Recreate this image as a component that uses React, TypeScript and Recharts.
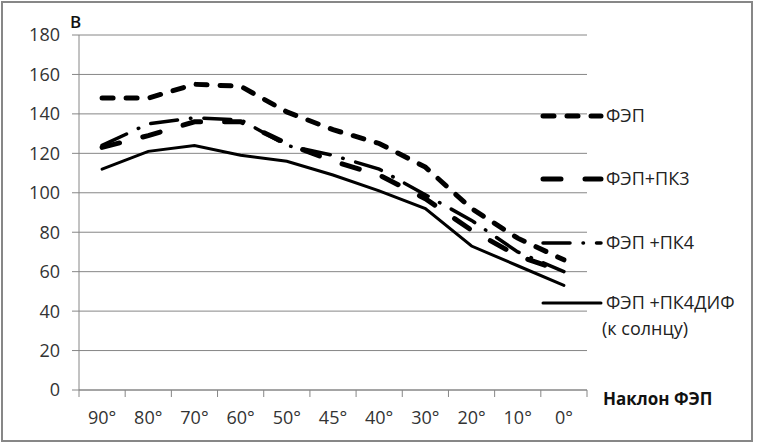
import { CartesianGrid, Line, LineChart, XAxis, YAxis } from "recharts";

const categories = ["90°", "80°", "70°", "60°", "50°", "45°", "40°", "30°", "20°", "10°", "0°"];
const fep = [148, 148, 155, 154, 141, 132, 125, 113, 92, 77, 66];
const fepPk3 = [123, 129, 136, 136, 125, 116, 109, 97, 81, 68, 60];
const fepPk4 = [124, 135, 138, 137, 124, 119, 112, 99, 86, 70, 60];
const fepPk4Dif = [112, 121, 124, 119, 116, 109, 101, 92, 73, 63, 53];
const yTicks = [0, 20, 40, 60, 80, 100, 120, 140, 160, 180];

const series = [
  { key: "fep", name: "ФЭП", values: fep, width: 5, dash: "11 13" },
  { key: "pk3", name: "ФЭП+ПК3", values: fepPk3, width: 5, dash: "18 24" },
  { key: "pk4", name: "ФЭП +ПК4", values: fepPk4, width: 3.5, dash: "27 13 0.5 13" },
  { key: "dif", name: "ФЭП +ПК4ДИФ", values: fepPk4Dif, width: 3, dash: undefined },
];

const data = categories.map((angle, i) => {
  const row: any = { angle };
  series.forEach((s) => (row[s.key] = s.values[i]));
  return row;
});

const FONT = "'Open Sans', sans-serif";
const GRID = "#868686";
const W = 757;
const H = 445;
const M = { top: 35, right: 170, bottom: 0, left: 0 };
const Y_W = 79;
const X_H = 55;
const BAND = (W - M.right - Y_W) / categories.length;

function XTick(props: any) {
  const { x, y, payload, index } = props;
  const axisY = y - 21;
  const half = BAND / 2;
  return (
    <g>
      <line x1={x - half} x2={x - half} y1={axisY} y2={axisY + 7} stroke={GRID} />
      {index === categories.length - 1 && (
        <line x1={x + half} x2={x + half} y1={axisY} y2={axisY + 7} stroke={GRID} />
      )}
      <text x={x} y={y} dy="0.72em" textAnchor="middle" fontSize={18} fill="#333" fontFamily={FONT}>
        {payload.value}
      </text>
    </g>
  );
}

const legendY = [16, 79, 143, 203];

function LegendBox() {
  return (
    <svg width={217} height={250} style={{ position: "absolute", left: 538, top: 100 }}>
      {series.map((s, i) => (
        <g key={s.key}>
          <line
            x1={5}
            x2={63}
            y1={legendY[i]}
            y2={legendY[i]}
            stroke="#000"
            strokeWidth={s.width}
            strokeDasharray={s.dash}
            strokeLinecap="round"
          />
          <text x={68} y={legendY[i]} dy="0.36em" fontSize={18} fill="#222" fontFamily={FONT}>
            {s.name}
          </text>
        </g>
      ))}
      <text x={64} y={229} dy="0.36em" fontSize={18} fill="#222" fontFamily={FONT}>
        (к солнцу)
      </text>
    </svg>
  );
}

export default function App() {
  return (
    <div style={{ position: "absolute", left: 0, top: 0, width: W, height: H, background: "#fff" }}>
      <div
        style={{
          position: "absolute",
          left: 1,
          top: 1,
          width: 752,
          height: 441,
          border: "2px solid #878787",
          boxSizing: "border-box",
        }}
      />
      <LineChart width={W} height={H} data={data} margin={M}>
        <CartesianGrid vertical={false} stroke={GRID} />
        <XAxis
          dataKey="angle"
          height={X_H}
          stroke={GRID}
          tickLine={false}
          tickSize={7}
          tickMargin={14}
          interval={0}
          padding={{ left: BAND / 2, right: BAND / 2 }}
          tick={<XTick />}
        />
        <YAxis
          width={Y_W}
          domain={[0, 180]}
          ticks={yTicks}
          interval={0}
          stroke={GRID}
          tickSize={7}
          tickMargin={12}
          tick={{ fontSize: 18, fill: "#333", fontFamily: FONT }}
        />
        {series.map((s) => (
          <Line
            key={s.key}
            type="linear"
            dataKey={s.key}
            name={s.name}
            stroke="#000"
            strokeWidth={s.width}
            strokeDasharray={s.dash}
            strokeLinecap="round"
            dot={false}
            activeDot={false}
            isAnimationActive={false}
          />
        ))}
      </LineChart>
      <LegendBox />
      <div
        style={{
          position: "absolute",
          left: 70,
          top: 10,
          fontFamily: FONT,
          fontSize: 17,
          fontWeight: 600,
          color: "#111",
        }}
      >
        В
      </div>
      <div
        style={{
          position: "absolute",
          left: 603,
          top: 387,
          fontFamily: FONT,
          fontSize: 17,
          fontWeight: 700,
          color: "#111",
        }}
      >
        Наклон ФЭП
      </div>
    </div>
  );
}
